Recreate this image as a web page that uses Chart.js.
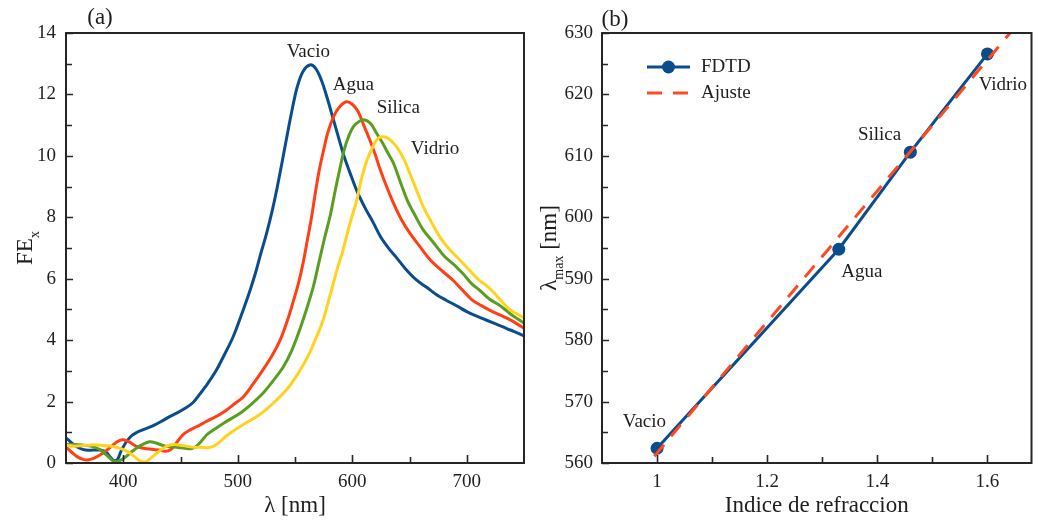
<!DOCTYPE html>
<html>
<head>
<meta charset="utf-8">
<script src="https://cdn.jsdelivr.net/npm/chart.js@4.4.1/dist/chart.umd.min.js"></script>
<style>
  html, body { margin: 0; padding: 0; background: #fff; }
  #wrap { position: relative; width: 1038px; height: 520px; }
  #fe { position: absolute; left: 0; top: 0; }
  #lm { position: absolute; left: 540px; top: 0; }
</style>
</head>
<body>
<div id="wrap">
  <canvas id="fe" width="540" height="520"></canvas>
  <canvas id="lm" width="498" height="520"></canvas>
</div>
<script>
(function(){
  const SERIF = '"Liberation Serif", "DejaVu Serif", serif';
  const TEXT = '#1e1e1e';
  const AXIS = '#262626';
  const BLUE = '#0b4d8c';
  const RED = '#ff3f14';
  const GREEN = '#5a9e20';
  const YELLOW = '#ffd21e';
  const FIT = '#ff4a1f';

  // (a) field enhancement spectra, one array pair per medium
  const vacioNm = [350,356,362,367,374,380,385,389,392,395,398,402,407,412,417,422,428,434,441,447,454,461,467,474,481,488,496,503,511,516,520,525,530,534,539,544,548,552,557,563,568,573,578,583,588,593,599,605,612,618,625,632,639,647,656,665,674,682,691,700,706,714,722,730,738,744,750];
  const vacioFE = [0.82,0.62,0.48,0.42,0.42,0.42,0.35,0.18,0.08,0.12,0.38,0.65,0.88,1.0,1.08,1.15,1.25,1.37,1.52,1.63,1.78,1.97,2.25,2.6,3.0,3.5,4.11,4.8,5.65,6.25,6.8,7.45,8.2,8.89,9.85,10.84,11.6,12.25,12.75,12.96,12.85,12.47,11.9,11.25,10.6,9.97,9.35,8.78,8.25,7.85,7.35,6.98,6.67,6.3,5.96,5.72,5.47,5.3,5.12,4.93,4.82,4.7,4.58,4.46,4.33,4.24,4.14];

  const aguaNm = [350,355,360,365,369,374,380,385,390,395,399,403,408,413,419,425,431,437,441,445,449,453,458,464,470,476,482,490,497,505,513,522,530,537,543,548,553,557,561,564,568,571,575,579,584,589,595,600,605,610,615,620,624,630,636,643,650,659,668,678,688,697,704,712,720,729,738,744,750];
  const aguaFE = [0.52,0.35,0.2,0.12,0.1,0.15,0.27,0.4,0.55,0.7,0.76,0.73,0.62,0.52,0.47,0.45,0.42,0.38,0.42,0.58,0.78,0.95,1.07,1.18,1.3,1.42,1.53,1.72,1.92,2.16,2.55,3.03,3.5,4.0,4.6,5.2,5.85,6.5,7.3,7.9,8.85,9.5,10.19,10.8,11.3,11.6,11.76,11.68,11.45,11.0,10.55,10.05,9.6,9.0,8.46,7.92,7.5,7.05,6.62,6.27,5.95,5.6,5.33,5.14,4.98,4.82,4.66,4.53,4.39];

  const silicaNm = [350,357,364,370,376,381,386,390,393,397,401,406,412,418,423,428,434,440,447,454,460,464,468,473,479,490,502,512,522,531,540,547,554,560,566,571,576,581,585,589,593,597,601,606,611,616,621,626,631,636,642,648,655,662,670,680,690,697,704,712,720,728,734,740,745,750];
  const silicaFE = [0.6,0.6,0.59,0.56,0.5,0.4,0.24,0.1,0.05,0.08,0.17,0.32,0.5,0.62,0.69,0.66,0.58,0.53,0.51,0.48,0.47,0.55,0.7,0.92,1.08,1.35,1.62,1.92,2.27,2.68,3.14,3.65,4.33,5.0,5.74,6.55,7.35,8.1,8.85,9.55,10.2,10.65,10.95,11.12,11.17,11.05,10.75,10.45,10.1,9.76,9.15,8.56,8.05,7.59,7.22,6.75,6.42,6.15,5.85,5.6,5.33,5.15,4.98,4.8,4.68,4.55];

  const vidrioNm = [350,356,364,372,380,388,395,401,406,410,414,418,422,427,432,438,444,450,456,462,468,474,479,484,490,497,507,517,526,534,543,551,558,563,567,571,575,578,581,586,592,598,604,608,613,618,622,626,631,635,639,645,650,656,662,669,677,685,694,703,710,719,726,732,738,744,750];
  const vidrioFE = [0.58,0.55,0.56,0.59,0.58,0.55,0.5,0.42,0.32,0.2,0.08,0.03,0.1,0.25,0.4,0.55,0.6,0.58,0.54,0.51,0.51,0.5,0.55,0.68,0.88,1.07,1.3,1.52,1.78,2.05,2.4,2.81,3.25,3.6,3.95,4.3,4.7,5.1,5.5,6.2,6.94,7.8,8.56,9.25,9.87,10.3,10.55,10.62,10.58,10.45,10.28,9.9,9.45,8.9,8.35,7.85,7.33,6.95,6.61,6.25,5.98,5.72,5.45,5.2,4.98,4.85,4.72];

  const medios = ['Vacio', 'Agua', 'Silica', 'Vidrio'];
  // where each medium name sits in (a), in nm / FE units
  const feLabelNm = [561.6, 600.9, 640.2, 672.3];
  const feLabelFE = [13.39, 12.31, 11.55, 10.21];

  const feXMajor = [400, 500, 600, 700];
  const feXMinor = [450, 550, 650];
  const feYMajor = [0, 2, 4, 6, 8, 10, 12, 14];
  const feYMinor = [1, 3, 5, 7, 9, 11, 13];

  // (b) resonance wavelength vs refractive index
  const indice = [1.0, 1.33, 1.46, 1.6];
  const lambdaMax = [562.4, 594.8, 610.6, 626.6];
  const ajusteIndice = [0.995, 1.641];
  const ajusteLambda = [561.1, 630];
  const lmLabelIdx = [0.977, 1.372, 1.404, 1.628];
  const lmLabelNm = [566.7, 591.1, 613.4, 621.5];

  const lmXMajor = [1, 1.2, 1.4, 1.6];
  const lmXMinor = [1.1, 1.3, 1.5];
  const lmYMajor = [560, 570, 580, 590, 600, 610, 620, 630];
  const lmYMinor = [565, 575, 585, 595, 605, 615, 625];

  const pairs = (xs, ys) => xs.map((v, i) => ({ x: v, y: ys[i] }));

  function curve(label, xs, ys, color, order) {
    return {
      label: label,
      data: pairs(xs, ys),
      borderColor: color,
      borderWidth: 3,
      pointRadius: 0,
      tension: 0.35,
      fill: false,
      order: order
    };
  }

  // rotated axis title with a subscript part
  function sideTitle(ctx, cx, cy, parts) {
    ctx.save();
    ctx.translate(cx, cy);
    ctx.rotate(-Math.PI / 2);
    let total = 0;
    parts.forEach(p => {
      ctx.font = p.size + 'px ' + SERIF;
      p.w = ctx.measureText(p.text).width;
      total += p.w;
    });
    let x = -total / 2;
    ctx.fillStyle = TEXT;
    ctx.textAlign = 'left';
    ctx.textBaseline = 'alphabetic';
    parts.forEach(p => {
      ctx.font = p.size + 'px ' + SERIF;
      ctx.fillText(p.text, x, p.sub ? 15 : 8);
      x += p.w;
    });
    ctx.restore();
  }

  function axisOpts(min, max, major, title, pad) {
    return {
      type: 'linear',
      min: min,
      max: max,
      afterBuildTicks: s => { s.ticks = major.map(v => ({ value: v })); },
      grid: { display: false, drawTicks: false },
      border: { display: false },
      ticks: {
        font: { family: SERIF, size: 19 }, color: TEXT, autoSkip: false, maxRotation: 0,
        padding: pad, callback: v => String(v)
      },
      title: title ? { display: true, text: title, font: { family: SERIF, size: 23 }, color: TEXT, padding: 0 } : { display: false }
    };
  }

  // inward ticks, closed frame, text labels
  function panelDecor(cfg) {
    return {
      id: 'panelDecor',
      afterDatasetsDraw(chart) {
        const { ctx, chartArea: a, scales: { x, y } } = chart;
        ctx.save();
        ctx.strokeStyle = AXIS;
        ctx.lineWidth = 1.6;
        ctx.beginPath();
        const xt = (vals, len) => vals.forEach(v => {
          const p = Math.round(x.getPixelForValue(v)) + 0.5;
          ctx.moveTo(p, a.bottom); ctx.lineTo(p, a.bottom - len);
        });
        const yt = (vals, len) => vals.forEach(v => {
          const p = Math.round(y.getPixelForValue(v)) + 0.5;
          ctx.moveTo(a.left, p); ctx.lineTo(a.left + len, p);
        });
        xt(cfg.xMajor, 8); xt(cfg.xMinor, 6);
        yt(cfg.yMajor, 7); yt(cfg.yMinor, 6);
        ctx.stroke();
        ctx.lineWidth = 2;
        ctx.strokeRect(a.left, a.top, a.right - a.left, a.bottom - a.top);

        ctx.fillStyle = TEXT;
        ctx.font = '19px ' + SERIF;
        ctx.textAlign = 'center';
        ctx.textBaseline = 'middle';
        cfg.names.forEach((n, i) => {
          ctx.fillText(n, x.getPixelForValue(cfg.labelX[i]), y.getPixelForValue(cfg.labelY[i]));
        });

        ctx.font = '23px ' + SERIF;
        ctx.fillText(cfg.panel, cfg.panelPos[0], cfg.panelPos[1]);
        sideTitle(ctx, cfg.titleX, (a.top + a.bottom) / 2, cfg.yTitle);
        if (cfg.legend) cfg.legend(chart);
        ctx.restore();
      }
    };
  }

  // (a)
  new Chart(document.getElementById('fe'), {
    type: 'line',
    data: {
      datasets: [
        curve(medios[0], vacioNm, vacioFE, BLUE, 4),
        curve(medios[1], aguaNm, aguaFE, RED, 3),
        curve(medios[2], silicaNm, silicaFE, GREEN, 2),
        curve(medios[3], vidrioNm, vidrioFE, YELLOW, 1)
      ]
    },
    options: {
      responsive: false,
      animation: false,
      events: [],
      layout: { padding: { top: 33, right: 16, bottom: 0, left: 0 } },
      plugins: { legend: { display: false }, tooltip: { enabled: false } },
      scales: {
        x: Object.assign(axisOpts(350, 750, feXMajor, 'λ [nm]', 8), { afterFit: s => { s.height = 57; } }),
        y: Object.assign(axisOpts(0, 14, feYMajor, null, 10), { afterFit: s => { s.width = 66; } })
      }
    },
    plugins: [panelDecor({
      xMajor: feXMajor, xMinor: feXMinor, yMajor: feYMajor, yMinor: feYMinor,
      names: medios, labelX: feLabelNm, labelY: feLabelFE,
      panel: '(a)', panelPos: [100, 18],
      titleX: 24,
      yTitle: [{ text: 'FE', size: 23 }, { text: 'x', size: 14, sub: true }]
    })]
  });

  // legend for (b), built from the dataset styles
  function lmLegend(chart) {
    const { ctx, chartArea: a } = chart;
    const ds = chart.data.datasets;
    const x0 = a.left + 45, x1 = a.left + 88;
    const rows = [a.top + 34, a.top + 60];
    [ds[1], ds[0]].forEach((d, i) => {
      const yy = rows[i];
      ctx.save();
      ctx.strokeStyle = d.borderColor;
      ctx.lineWidth = d.borderWidth;
      ctx.setLineDash(d.borderDash || []);
      ctx.beginPath(); ctx.moveTo(x0, yy); ctx.lineTo(x1, yy); ctx.stroke();
      ctx.setLineDash([]);
      if (d.pointRadius) {
        ctx.fillStyle = d.pointBackgroundColor;
        ctx.beginPath(); ctx.arc((x0 + x1) / 2, yy, d.pointRadius, 0, Math.PI * 2); ctx.fill();
      }
      ctx.fillStyle = TEXT;
      ctx.font = '19px ' + SERIF;
      ctx.textAlign = 'left';
      ctx.textBaseline = 'middle';
      ctx.fillText(d.label, x1 + 11, yy);
      ctx.restore();
    });
  }

  // (b)
  new Chart(document.getElementById('lm'), {
    type: 'line',
    data: {
      datasets: [
        {
          label: 'Ajuste',
          data: pairs(ajusteIndice, ajusteLambda),
          borderColor: FIT,
          borderWidth: 3,
          borderDash: [15, 11],
          pointRadius: 0,
          order: 0
        },
        {
          label: 'FDTD',
          data: pairs(indice, lambdaMax),
          borderColor: BLUE,
          borderWidth: 3,
          pointRadius: 6.5,
          pointBackgroundColor: BLUE,
          pointBorderWidth: 0,
          tension: 0,
          order: 1
        }
      ]
    },
    options: {
      responsive: false,
      animation: false,
      events: [],
      layout: { padding: { top: 33, right: 1, bottom: 0, left: 0 } },
      plugins: { legend: { display: false }, tooltip: { enabled: false } },
      scales: {
        x: Object.assign(axisOpts(0.9, 1.68, lmXMajor, 'Indice de refraccion', 8), { afterFit: s => { s.height = 57; } }),
        y: Object.assign(axisOpts(560, 630, lmYMajor, null, 9), { afterFit: s => { s.width = 62; } })
      }
    },
    plugins: [panelDecor({
      xMajor: lmXMajor, xMinor: lmXMinor, yMajor: lmYMajor, yMinor: lmYMinor,
      names: medios, labelX: lmLabelIdx, labelY: lmLabelNm,
      panel: '(b)', panelPos: [75, 20],
      titleX: 8,
      yTitle: [{ text: 'λ', size: 23 }, { text: 'max', size: 14, sub: true }, { text: ' [nm]', size: 23 }],
      legend: lmLegend
    })]
  });
})();
</script>
</body>
</html>
